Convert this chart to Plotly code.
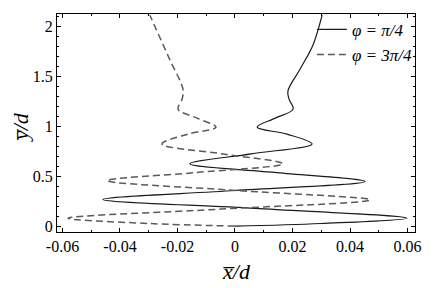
import plotly.graph_objects as go

# Trajectory phi = pi/4 (solid)
x_pi4 = [0.000, 0.030, 0.0598, 0.007, -0.0459, 0.000, 0.0452, 0.0146, -0.0157, 0.0056,
         0.0268, 0.0181, 0.0077, 0.0140, 0.0202, 0.0188, 0.0184, 0.0226, 0.0271, 0.0303]
y_pi4 = [0.000, 0.026, 0.079, 0.178, 0.267, 0.356, 0.446, 0.535, 0.624, 0.723,
         0.822, 0.920, 0.990, 1.080, 1.170, 1.270, 1.350, 1.570, 1.810, 2.110]

# Trajectory phi = 3pi/4 (dashed)
x_3pi4 = [0.000, -0.030, -0.0581, -0.005, 0.0470, 0.001, -0.0445, -0.0140, 0.0167, -0.0045,
          -0.0254, -0.0164, -0.0066, -0.0132, -0.0198, -0.0184, -0.0181, -0.0226, -0.0296]
y_3pi4 = [0.000, 0.026, 0.079, 0.170, 0.262, 0.356, 0.455, 0.535, 0.624, 0.723,
          0.822, 0.920, 0.990, 1.080, 1.170, 1.270, 1.370, 1.660, 2.110]

series_names = ["<i>φ = π/4</i>", "<i>φ = 3π/4</i>"]

x_tickvals = [-0.06, -0.04, -0.02, 0, 0.02, 0.04, 0.06]
x_ticktext = ["-0.06", "-0.04", "-0.02", "0", "0.02", "0.04", "0.06"]
y_tickvals = [0, 0.5, 1, 1.5, 2]
y_ticktext = ["0", "0.5", "1", "1.5", "2"]

x_title = "<i>x\u0305/d</i>"
y_title = "<i>y\u0305/d</i>"

SERIF = "Liberation Serif"

fig = go.Figure()
fig.add_trace(go.Scatter(
    x=x_pi4, y=y_pi4, mode="lines", name=series_names[0],
    line=dict(color="#1a1a1a", width=1.2, shape="spline", smoothing=1.0),
))
fig.add_trace(go.Scatter(
    x=x_3pi4, y=y_3pi4, mode="lines", name=series_names[1],
    line=dict(color="#5a5a5a", width=1.5, dash="7px,4px", shape="spline", smoothing=1.0),
))

axis_common = dict(
    showline=True, linecolor="black", linewidth=1, mirror="ticks",
    ticks="inside", ticklen=4, tickcolor="black", tickwidth=1,
    showgrid=False, zeroline=False,
    tickfont=dict(family=SERIF, size=16, color="black"),
)

# page body keeps an 8px margin, so the figure is sized to sit inside the window
fig.update_layout(
    width=428, height=280, autosize=False,
    margin=dict(l=49, r=21, t=4, b=56),
    paper_bgcolor="white", plot_bgcolor="white",
    font=dict(family=SERIF, color="black"),
    showlegend=True,
    legend=dict(
        x=0.712, xanchor="left", y=1.01, yanchor="top",
        bgcolor="rgba(0,0,0,0)", borderwidth=0,
        font=dict(family=SERIF, size=17, color="black"),
        itemwidth=30, tracegroupgap=0,
    ),
    xaxis=dict(
        range=[-0.0619, 0.0626], tickmode="array",
        tickvals=x_tickvals, ticktext=x_ticktext,
        minor=dict(tickmode="linear", tick0=0, dtick=0.01, ticks="inside",
                   ticklen=2, tickcolor="black", showgrid=False),
        **axis_common,
    ),
    yaxis=dict(
        range=[-0.059, 2.122], tickmode="array",
        tickvals=y_tickvals, ticktext=y_ticktext,
        minor=dict(tickmode="linear", tick0=0, dtick=0.1, ticks="inside",
                   ticklen=2, tickcolor="black", showgrid=False),
        **axis_common,
    ),
    annotations=[
        dict(text=x_title, xref="paper", yref="paper", x=0.5, y=-0.182,
             xanchor="center", yanchor="middle", showarrow=False,
             font=dict(family=SERIF, size=22, color="black")),
        dict(text=y_title, xref="paper", yref="paper", x=-0.1, y=0.482,
             xanchor="center", yanchor="middle", showarrow=False, textangle=-90,
             font=dict(family=SERIF, size=22, color="black")),
    ],
)

fig.write_html("out.html")
